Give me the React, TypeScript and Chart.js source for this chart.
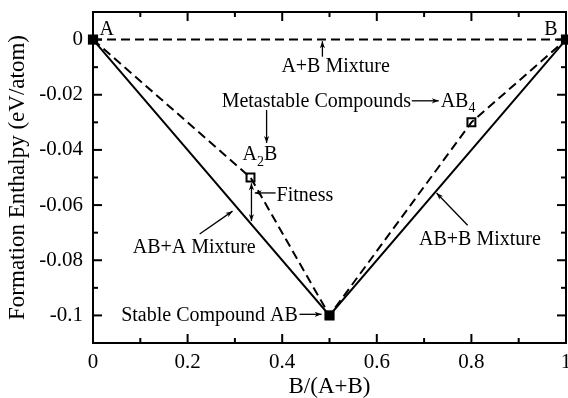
import { useEffect, useRef } from "react";
import { Chart, registerables } from "chart.js";

Chart.register(...registerables);

// ---- data ----
const xMixture = [0, 1];
const yMixture = [0, 0];
const xHull = [0, 0.5, 1];
const yHull = [0, -0.1, 0];
const xMeta = [0, 0.333, 0.5, 0.8, 1];
const yMeta = [0, -0.05, -0.1, -0.03, 0];
const xStable = [0, 0.5, 1];
const yStable = [0, -0.1, 0];
const xMetaPts = [0.333, 0.8];
const yMetaPts = [-0.05, -0.03];

const xTicks = [0, 0.2, 0.4, 0.6, 0.8, 1];
const xTickLabels = ["0", "0.2", "0.4", "0.6", "0.8", "1"];
const xMinorTicks = [0.1, 0.3, 0.5, 0.7, 0.9];
const yTicks = [0, -0.02, -0.04, -0.06, -0.08, -0.1];
const yTickLabels = ["0", "-0.02", "-0.04", "-0.06", "-0.08", "-0.1"];
const yMinorTicks = [-0.01, -0.03, -0.05, -0.07, -0.09];

const pts = (xs: number[], ys: number[]) => xs.map((x, i) => ({ x, y: ys[i] }));

const FONT = "'Liberation Serif', 'Times New Roman', serif";

// annotations (data coordinates)
type Seg = { text: string; sub?: boolean };
const labels: { parts: Seg[]; x: number; y: number; align: CanvasTextAlign }[] = [
  { parts: [{ text: "A" }], x: 0.014, y: 0.0036, align: "left" },
  { parts: [{ text: "B" }], x: 0.982, y: 0.0036, align: "right" },
  { parts: [{ text: "A+B Mixture" }], x: 0.513, y: -0.0098, align: "center" },
  { parts: [{ text: "Metastable Compounds" }], x: 0.272, y: -0.0225, align: "left" },
  { parts: [{ text: "AB" }, { text: "4", sub: true }], x: 0.735, y: -0.0225, align: "left" },
  { parts: [{ text: "A" }, { text: "2", sub: true }, { text: "B" }], x: 0.316, y: -0.0418, align: "left" },
  { parts: [{ text: "Fitness" }], x: 0.388, y: -0.0567, align: "left" },
  { parts: [{ text: "AB+A Mixture" }], x: 0.214, y: -0.0753, align: "center" },
  { parts: [{ text: "AB+B Mixture" }], x: 0.818, y: -0.0724, align: "center" },
  { parts: [{ text: "Stable Compound AB" }], x: 0.433, y: -0.1, align: "right" },
];
const arrows: { x1: number; y1: number; x2: number; y2: number; both?: boolean }[] = [
  { x1: 0.485, y1: -0.0062, x2: 0.485, y2: -0.0006 },
  { x1: 0.674, y1: -0.0222, x2: 0.731, y2: -0.0222 },
  { x1: 0.367, y1: -0.0255, x2: 0.367, y2: -0.0375 },
  { x1: 0.386, y1: -0.0556, x2: 0.342, y2: -0.0556 },
  { x1: 0.335, y1: -0.0521, x2: 0.335, y2: -0.0658, both: true },
  { x1: 0.2255, y1: -0.0705, x2: 0.295, y2: -0.0622 },
  { x1: 0.792, y1: -0.0673, x2: 0.7263, y2: -0.0556 },
  { x1: 0.4366, y1: -0.0996, x2: 0.4833, y2: -0.0996 },
];

const framePlugin = {
  id: "frame",
  beforeDatasetsDraw(chart: any) {
    const { ctx, chartArea: a, scales } = chart;
    const x = scales.x, y = scales.y;
    ctx.save();
    ctx.strokeStyle = "#000";
    ctx.lineWidth = 2;
    ctx.strokeRect(a.left, a.top, a.right - a.left, a.bottom - a.top);
    const tick = (px: number, py: number, dx: number, dy: number) => {
      ctx.beginPath();
      ctx.moveTo(px, py);
      ctx.lineTo(px + dx, py + dy);
      ctx.stroke();
    };
    xTicks.forEach((v) => {
      const p = x.getPixelForValue(v);
      tick(p, a.bottom, 0, -9);
      tick(p, a.top, 0, 9);
    });
    xMinorTicks.forEach((v) => {
      const p = x.getPixelForValue(v);
      tick(p, a.bottom, 0, -5);
      tick(p, a.top, 0, 5);
    });
    yTicks.forEach((v) => {
      const p = y.getPixelForValue(v);
      tick(a.left, p, 9, 0);
      tick(a.right, p, -9, 0);
    });
    yMinorTicks.forEach((v) => {
      const p = y.getPixelForValue(v);
      tick(a.left, p, 5, 0);
      tick(a.right, p, -5, 0);
    });
    ctx.restore();
  },
  afterDatasetsDraw(chart: any) {
    const { ctx, scales } = chart;
    const x = scales.x, y = scales.y;
    ctx.save();
    ctx.fillStyle = "#000";
    ctx.strokeStyle = "#000";
    ctx.textBaseline = "middle";
    const big = `20px ${FONT}`;
    const small = `14px ${FONT}`;
    labels.forEach((l) => {
      const widths = l.parts.map((p) => {
        ctx.font = p.sub ? small : big;
        return ctx.measureText(p.text).width;
      });
      const total = widths.reduce((s, w) => s + w, 0);
      let px = x.getPixelForValue(l.x);
      const py = y.getPixelForValue(l.y);
      if (l.align === "center") px -= total / 2;
      else if (l.align === "right") px -= total;
      ctx.textAlign = "left";
      l.parts.forEach((p, i) => {
        ctx.font = p.sub ? small : big;
        ctx.fillText(p.text, px, p.sub ? py + 7 : py);
        px += widths[i];
      });
    });
    const head = (fx: number, fy: number, tx: number, ty: number) => {
      const ang = Math.atan2(ty - fy, tx - fx);
      const len = 7, w = 2.6;
      ctx.beginPath();
      ctx.moveTo(tx, ty);
      ctx.lineTo(tx - len * Math.cos(ang) + w * Math.sin(ang), ty - len * Math.sin(ang) - w * Math.cos(ang));
      ctx.lineTo(tx - len * 0.7 * Math.cos(ang), ty - len * 0.7 * Math.sin(ang));
      ctx.lineTo(tx - len * Math.cos(ang) - w * Math.sin(ang), ty - len * Math.sin(ang) + w * Math.cos(ang));
      ctx.closePath();
      ctx.fill();
    };
    ctx.lineWidth = 1.3;
    arrows.forEach((a) => {
      const x1 = x.getPixelForValue(a.x1), y1 = y.getPixelForValue(a.y1);
      const x2 = x.getPixelForValue(a.x2), y2 = y.getPixelForValue(a.y2);
      ctx.beginPath();
      ctx.moveTo(x1, y1);
      ctx.lineTo(x2, y2);
      ctx.stroke();
      head(x1, y1, x2, y2);
      if (a.both) head(x2, y2, x1, y1);
    });
    ctx.restore();
  },
};

export default function App() {
  const ref = useRef<HTMLCanvasElement | null>(null);
  useEffect(() => {
    if (!ref.current) return;
    const chart = new Chart(ref.current, {
      type: "scatter",
      data: {
        datasets: [
          {
            data: pts(xMixture, yMixture),
            showLine: true,
            borderColor: "#000",
            borderWidth: 2,
            borderDash: [9, 5],
            pointRadius: 0,
          },
          {
            data: pts(xHull, yHull),
            showLine: true,
            borderColor: "#000",
            borderWidth: 2,
            pointRadius: 0,
          },
          {
            data: pts(xMeta, yMeta),
            showLine: true,
            borderColor: "#000",
            borderWidth: 2,
            borderDash: [9, 5],
            pointRadius: 0,
          },
          {
            data: pts(xStable, yStable),
            showLine: false,
            pointStyle: "rect",
            pointRadius: 7.2,
            backgroundColor: "#000",
            borderColor: "#000",
            borderWidth: 0,
          },
          {
            data: pts(xMetaPts, yMetaPts),
            showLine: false,
            pointStyle: "rect",
            pointRadius: 5.6,
            backgroundColor: "rgba(0,0,0,0)",
            borderColor: "#000",
            borderWidth: 2,
          },
        ],
      },
      options: {
        responsive: false,
        animation: false,
        clip: false,
        layout: { autoPadding: false, padding: { top: 12, right: 2, left: 0, bottom: 0 } },
        plugins: { legend: { display: false }, tooltip: { enabled: false } },
        scales: {
          x: {
            type: "linear",
            min: 0,
            max: 1,
            grid: { display: false, drawTicks: false },
            border: { display: false },
            afterFit: (s: any) => {
              s.height = 55;
              s.paddingLeft = 0;
              s.paddingRight = 0;
            },
            afterBuildTicks: (s: any) => {
              s.ticks = xTicks.map((v) => ({ value: v }));
            },
            ticks: {
              padding: 7,
              maxRotation: 0,
              autoSkip: false,
              color: "#000",
              font: { family: FONT, size: 21 },
              callback: (v: any) => xTickLabels[xTicks.indexOf(Number(v))] ?? "",
            },
            title: {
              display: true,
              text: "B/(A+B)",
              color: "#000",
              font: { family: FONT, size: 23, lineHeight: 1 },
              padding: { top: 0, bottom: 0 },
            },
          },
          y: {
            type: "linear",
            min: -0.11,
            max: 0.01,
            grid: { display: false, drawTicks: false },
            border: { display: false },
            afterFit: (s: any) => {
              s.width = 93;
              s.paddingTop = 0;
              s.paddingBottom = 0;
            },
            afterBuildTicks: (s: any) => {
              s.ticks = yTicks.map((v) => ({ value: v }));
            },
            ticks: {
              padding: 10,
              autoSkip: false,
              color: "#000",
              font: { family: FONT, size: 21 },
              callback: (v: any) => {
                const i = yTicks.findIndex((t) => Math.abs(t - Number(v)) < 1e-9);
                return i >= 0 ? yTickLabels[i] : "";
              },
            },
            title: {
              display: true,
              text: "Formation Enthalpy (eV/atom)",
              color: "#000",
              font: { family: FONT, size: 23, lineHeight: 1 },
              padding: { top: 6, bottom: 0 },
            },
          },
        },
      } as any,
      plugins: [framePlugin],
    });
    return () => chart.destroy();
  }, []);
  return (
    <div style={{ position: "fixed", left: 0, top: 0, width: 568, height: 398, background: "#fff" }}>
      <canvas ref={ref} width={568} height={398} style={{ display: "block" }} />
    </div>
  );
}
